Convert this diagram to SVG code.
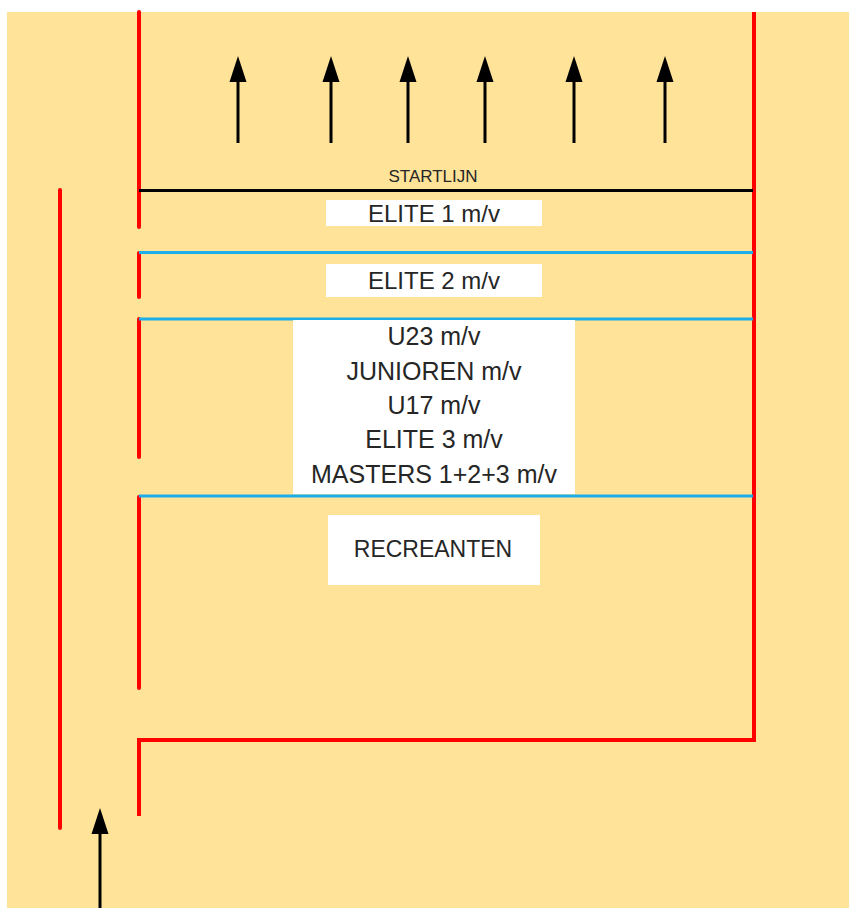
<svg xmlns="http://www.w3.org/2000/svg" width="849" height="908" viewBox="0 0 849 908">
<defs>
<style>
.red{stroke:#FF0000;stroke-width:4;stroke-linecap:round;fill:none}
.blue{stroke:#1CAEE8;stroke-width:3;fill:none}
.blk{stroke:#000;stroke-width:3;fill:none}
.arr{stroke:#000;stroke-width:3;fill:none}
.head{fill:#000}
.box{fill:#FFFFFF}
.t{font-family:"Liberation Sans",Arial,sans-serif;fill:#262626;text-anchor:middle}
</style>
</defs>
<rect x="0" y="0" width="849" height="908" fill="#FFFFFF"/>
<rect x="7" y="12" width="842" height="896" fill="#FEE399"/>
<g id="lines">
<line class="red" x1="60" y1="190" x2="60" y2="828"/>
<line class="red" x1="139" y1="12" x2="139" y2="227"/>
<line class="red" x1="139" y1="253" x2="139" y2="297"/>
<line class="red" x1="139" y1="319" x2="139" y2="457"/>
<line class="red" x1="139" y1="497" x2="139" y2="688"/>
<polyline class="red" points="139,816 139,740 754,740 754,12" style="stroke-linecap:butt"/>
<line class="blk" x1="139" y1="190.5" x2="753" y2="190.5"/>
<line class="blue" x1="139" y1="252.5" x2="753" y2="252.5"/>
<line class="blue" x1="139" y1="319" x2="753" y2="319"/>
<line class="blue" x1="139" y1="496" x2="753" y2="496"/>
</g>
<g id="arrows">
<line class="arr" x1="238" y1="143" x2="238" y2="78"/><polygon class="head" points="238,56 229.5,82 246.5,82"/>
<line class="arr" x1="331" y1="143" x2="331" y2="78"/><polygon class="head" points="331,56 322.5,82 339.5,82"/>
<line class="arr" x1="408" y1="143" x2="408" y2="78"/><polygon class="head" points="408,56 399.5,82 416.5,82"/>
<line class="arr" x1="485" y1="143" x2="485" y2="78"/><polygon class="head" points="485,56 476.5,82 493.5,82"/>
<line class="arr" x1="574" y1="143" x2="574" y2="78"/><polygon class="head" points="574,56 565.5,82 582.5,82"/>
<line class="arr" x1="665" y1="143" x2="665" y2="78"/><polygon class="head" points="665,56 656.5,82 673.5,82"/>
<line class="arr" x1="100" y1="908" x2="100" y2="830"/><polygon class="head" points="100,808 91.5,834 108.5,834"/>
</g>
<g id="startlijn">
<text class="t" x="433" y="182" font-size="17">STARTLIJN</text>
</g>
<g id="elite1">
<rect class="box" x="326" y="200" width="216" height="26"/>
<text class="t" x="434" y="222" font-size="24">ELITE 1 m/v</text>
</g>
<g id="elite2">
<rect class="box" x="326" y="264" width="216" height="33"/>
<text class="t" x="434" y="289" font-size="24">ELITE 2 m/v</text>
</g>
<g id="groep3">
<rect class="box" x="293" y="320" width="282" height="174"/>
<text class="t" x="434" y="345" font-size="25">U23 m/v</text>
<text class="t" x="434" y="380" font-size="25">JUNIOREN m/v</text>
<text class="t" x="434" y="414" font-size="25">U17 m/v</text>
<text class="t" x="434" y="448" font-size="25">ELITE 3 m/v</text>
<text class="t" x="434" y="483" font-size="25">MASTERS 1+2+3 m/v</text>
</g>
<g id="recreanten">
<rect class="box" x="328" y="515" width="212" height="70"/>
<text class="t" x="433" y="557" font-size="23">RECREANTEN</text>
</g>
</svg>
